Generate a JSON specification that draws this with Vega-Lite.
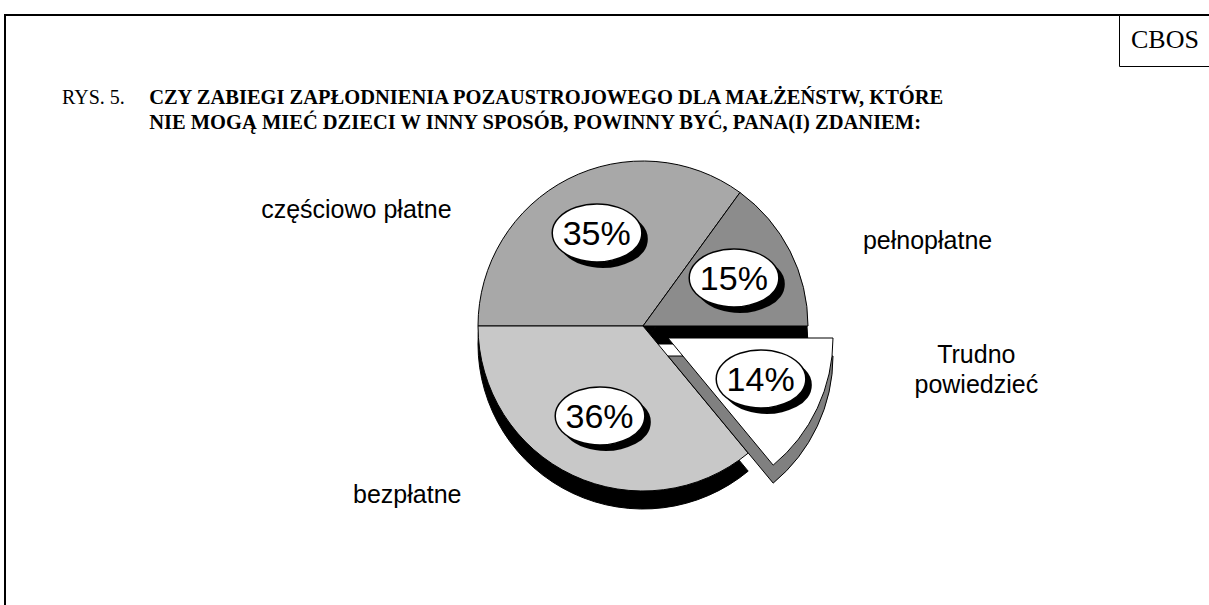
{
  "$schema": "https://vega.github.io/schema/vega-lite/v6.json",
  "width": 1209,
  "height": 605,
  "autosize": {"type": "fit", "contains": "padding"},
  "padding": {"left": 5, "top": 15, "right": -2, "bottom": -2},
  "background": "white",
  "view": {"stroke": "black", "strokeWidth": 2},
  "title": {
    "text": "RYS. 5.",
    "subtitle": [
      "\u200b\u00a0\u00a0\u00a0\u00a0\u00a0\u00a0\u00a0\u00a0\u00a0\u00a0\u00a0\u00a0\u00a0\u00a0\u00a0\u00a0\u00a0CZY ZABIEGI ZAPŁODNIENIA POZAUSTROJOWEGO DLA MAŁŻEŃSTW, KTÓRE",
      "\u200b\u00a0\u00a0\u00a0\u00a0\u00a0\u00a0\u00a0\u00a0\u00a0\u00a0\u00a0\u00a0\u00a0\u00a0\u00a0\u00a0\u00a0NIE MOGĄ MIEĆ DZIECI W INNY SPOSÓB, POWINNY BYĆ, PANA(I) ZDANIEM:"
    ],
    "anchor": "start",
    "frame": "group",
    "orient": "top",
    "dx": 57,
    "offset": -118,
    "font": "Liberation Serif",
    "fontSize": 20,
    "fontWeight": "normal",
    "color": "black",
    "subtitleFont": "Liberation Serif",
    "subtitleFontSize": 20.5,
    "subtitleFontWeight": "bold",
    "subtitleColor": "black",
    "subtitlePadding": -20,
    "subtitleLineHeight": 25
  },
  "data": {
    "values": [
      {"kategoria": "częściowo płatne", "nr": 1, "procent": 35, "etykieta": "35%"},
      {"kategoria": "pełnopłatne", "nr": 2, "procent": 15, "etykieta": "15%"},
      {"kategoria": "Trudno powiedzieć", "nr": 3, "procent": 14, "etykieta": "14%"},
      {"kategoria": "bezpłatne", "nr": 4, "procent": 36, "etykieta": "36%"}
    ]
  },
  "encoding": {
    "theta": {"field": "procent", "type": "quantitative", "stack": true, "scale": {"range": [4.71238898, 10.99557429]}},
    "order": {"field": "nr", "type": "quantitative"}
  },
  "layer": [
    {
      "mark": {"type": "text", "text": "", "fill": "white", "opacity": 0},
      "encoding": {
        "color": {
          "datum": "CBOS",
          "type": "nominal",
          "scale": {"range": ["white"]},
          "legend": {
            "orient": "top-right",
            "offset": 0,
            "padding": 12,
            "strokeColor": "black",
            "fillColor": "white",
            "title": "CBOS",
            "titleFont": "Liberation Serif",
            "titleFontSize": 26,
            "titleFontWeight": "normal",
            "titleColor": "black",
            "titlePadding": 0,
            "labelExpr": "''",
            "labelFontSize": 1,
            "symbolSize": 1,
            "symbolOpacity": 0,
            "symbolStrokeWidth": 0,
            "rowPadding": 0,
            "labelOffset": 0
          }
        }
      }
    },
    {
      "mark": {"type": "arc", "outerRadius": 165, "xOffset": 35, "yOffset": 33, "fill": "black", "stroke": "black", "strokeWidth": 1},
      "encoding": {
        "opacity": {"condition": {"test": "datum.kategoria === 'Trudno powiedzieć'", "value": 0}, "value": 1}
      }
    },
    {
      "mark": {"type": "arc", "outerRadius": 165, "xOffset": 35, "yOffset": 15, "stroke": "black", "strokeWidth": 1},
      "encoding": {
        "fill": {
          "field": "kategoria",
          "type": "nominal",
          "scale": {
            "domain": ["częściowo płatne", "pełnopłatne", "Trudno powiedzieć", "bezpłatne"],
            "range": ["#a8a8a8", "#8c8c8c", "#ffffff", "#c8c8c8"]
          },
          "legend": null
        },
        "opacity": {"condition": {"test": "datum.kategoria === 'Trudno powiedzieć'", "value": 0}, "value": 1}
      }
    },
    {
      "mark": {"type": "arc", "outerRadius": 165, "xOffset": 60, "yOffset": 45, "fill": "#808080", "stroke": "black", "strokeWidth": 1},
      "encoding": {
        "opacity": {"condition": {"test": "datum.kategoria === 'Trudno powiedzieć'", "value": 1}, "value": 0}
      }
    },
    {
      "mark": {"type": "arc", "outerRadius": 165, "xOffset": 60, "yOffset": 27, "fill": "white", "stroke": "black", "strokeWidth": 1},
      "encoding": {
        "opacity": {"condition": {"test": "datum.kategoria === 'Trudno powiedzieć'", "value": 1}, "value": 0}
      }
    },
    {
      "mark": {"type": "text", "radius": 102, "xOffset": 41, "yOffset": 21, "font": "DejaVu Sans", "fontSize": 110, "baseline": "middle", "align": "center", "fill": "black"},
      "encoding": {
        "text": {"value": "⬬"},
        "opacity": {"condition": {"test": "datum.kategoria === 'Trudno powiedzieć'", "value": 0}, "value": 1}
      }
    },
    {
      "mark": {"type": "text", "radius": 102, "xOffset": 35, "yOffset": 15, "font": "DejaVu Sans", "fontSize": 110, "baseline": "middle", "align": "center", "fill": "white", "stroke": "black", "strokeWidth": 1.5},
      "encoding": {
        "text": {"value": "⬬"},
        "opacity": {"condition": {"test": "datum.kategoria === 'Trudno powiedzieć'", "value": 0}, "value": 1}
      }
    },
    {
      "mark": {"type": "text", "radius": 102, "xOffset": 35, "yOffset": 15, "font": "Liberation Sans", "fontSize": 34, "baseline": "middle", "align": "center", "fill": "black"},
      "encoding": {
        "text": {"field": "etykieta"},
        "opacity": {"condition": {"test": "datum.kategoria === 'Trudno powiedzieć'", "value": 0}, "value": 1}
      }
    },
    {
      "mark": {"type": "text", "radius": 130, "xOffset": 41, "yOffset": 21, "font": "DejaVu Sans", "fontSize": 110, "baseline": "middle", "align": "center", "fill": "black"},
      "encoding": {
        "text": {"value": "⬬"},
        "opacity": {"condition": {"test": "datum.kategoria === 'Trudno powiedzieć'", "value": 1}, "value": 0}
      }
    },
    {
      "mark": {"type": "text", "radius": 130, "xOffset": 35, "yOffset": 15, "font": "DejaVu Sans", "fontSize": 110, "baseline": "middle", "align": "center", "fill": "white", "stroke": "black", "strokeWidth": 1.5},
      "encoding": {
        "text": {"value": "⬬"},
        "opacity": {"condition": {"test": "datum.kategoria === 'Trudno powiedzieć'", "value": 1}, "value": 0}
      }
    },
    {
      "mark": {"type": "text", "radius": 130, "xOffset": 35, "yOffset": 15, "font": "Liberation Sans", "fontSize": 34, "baseline": "middle", "align": "center", "fill": "black"},
      "encoding": {
        "text": {"field": "etykieta"},
        "opacity": {"condition": {"test": "datum.kategoria === 'Trudno powiedzieć'", "value": 1}, "value": 0}
      }
    },
    {
      "mark": {"type": "text", "radius": 175, "xOffset": 35, "yOffset": 15, "dx": -112, "dy": 40, "font": "Liberation Sans", "fontSize": 25, "baseline": "middle", "align": "right", "fill": "black"},
      "encoding": {
        "text": {"field": "kategoria"},
        "opacity": {"condition": {"test": "datum.kategoria === 'częściowo płatne'", "value": 1}, "value": 0}
      }
    },
    {
      "mark": {"type": "text", "radius": 175, "xOffset": 35, "yOffset": 15, "dx": 64, "dy": -6, "font": "Liberation Sans", "fontSize": 25, "baseline": "middle", "align": "left", "fill": "black"},
      "encoding": {
        "text": {"field": "kategoria"},
        "opacity": {"condition": {"test": "datum.kategoria === 'pełnopłatne'", "value": 1}, "value": 0}
      }
    },
    {
      "mark": {"type": "text", "radius": 175, "xOffset": 35, "yOffset": 15, "dx": 175, "dy": -58, "font": "Liberation Sans", "fontSize": 25, "baseline": "top", "align": "center", "lineBreak": " ", "lineHeight": 30, "fill": "black"},
      "encoding": {
        "text": {"field": "kategoria"},
        "opacity": {"condition": {"test": "datum.kategoria === 'Trudno powiedzieć'", "value": 1}, "value": 0}
      }
    },
    {
      "mark": {"type": "text", "radius": 175, "xOffset": 35, "yOffset": 15, "dx": -107, "dy": 11, "font": "Liberation Sans", "fontSize": 25, "baseline": "middle", "align": "right", "fill": "black"},
      "encoding": {
        "text": {"field": "kategoria"},
        "opacity": {"condition": {"test": "datum.kategoria === 'bezpłatne'", "value": 1}, "value": 0}
      }
    }
  ]
}
